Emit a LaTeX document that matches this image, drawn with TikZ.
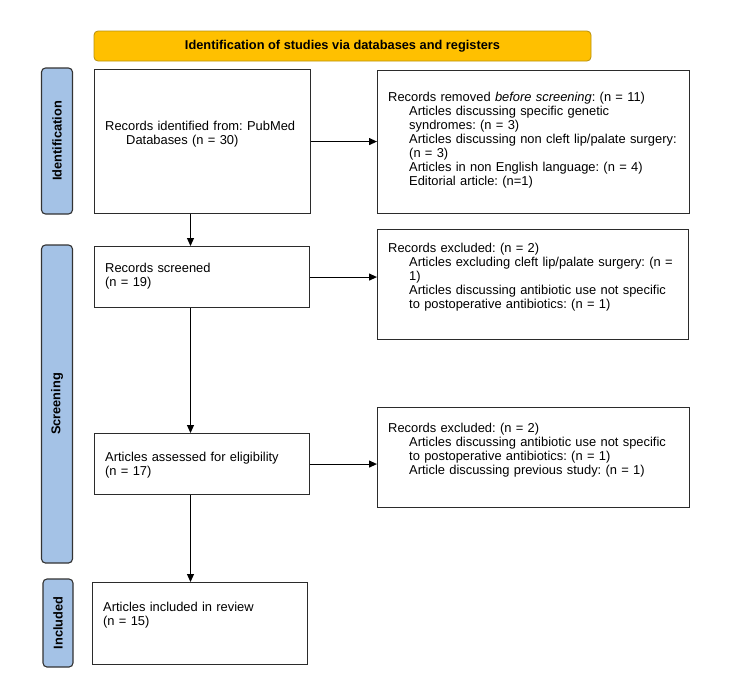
\documentclass[tikz,border=0pt]{standalone}
\usepackage{fontspec}
\setmainfont{Liberation Sans}
\usetikzlibrary{arrows.meta,calc}
\definecolor{bannerfill}{HTML}{FFC000}
\definecolor{bannerline}{HTML}{B8900A}
\definecolor{sidefill}{HTML}{A4C2E6}
\definecolor{sideline}{HTML}{333333}
\definecolor{boxline}{HTML}{2B2B2B}
\frenchspacing
\begin{document}
\frenchspacing
\begin{tikzpicture}[x=1pt,y=-1pt,
  box/.style={draw=boxline, line width=1.1pt, rectangle, inner sep=0pt, anchor=north west, fill=white},
  sidebar/.style={draw=sideline, line width=1.1pt, fill=sidefill, rounded corners=4pt, inner sep=0pt, rotate=90, font=\bfseries\fontsize{12.8}{14}\selectfont},
  banner/.style={draw=bannerline, line width=0.8pt, fill=bannerfill, rounded corners=4pt, inner sep=0pt, font=\bfseries\fontsize{12.8}{14}\selectfont},
  txt/.style={anchor=base west, inner sep=0pt, align=left, text width=310pt, font=\frenchspacing\fontsize{12.9}{14.1}\selectfont},
  arr/.style={line width=1.1pt, draw=black, -{Triangle[length=8pt,width=7pt]}}
]
\useasboundingbox (0,0) rectangle (750,694);

% banner
\node[banner, minimum width=497pt, minimum height=30pt] (ban) at (342.5,46) {Identification of studies via databases and registers};

% side bars
\node[sidebar, minimum width=146pt, minimum height=31pt] (s1) at (57,141) {Identification};
\node[sidebar, minimum width=318pt, minimum height=31pt] (s2) at (57,404) {Screening};
\node[sidebar, minimum width=88pt, minimum height=30pt] (s3) at (58,623) {Included};

% boxes
\node[box, minimum width=216pt, minimum height=144pt] (b1) at (94,69) {};
\node[box, minimum width=312pt, minimum height=143pt] (b2) at (377,70) {};
\node[box, minimum width=215pt, minimum height=61pt] (b3) at (94,246) {};
\node[box, minimum width=311pt, minimum height=110pt] (b4) at (377,229) {};
\node[box, minimum width=215pt, minimum height=61pt] (b5) at (94,433) {};
\node[box, minimum width=312pt, minimum height=100pt] (b6) at (377,407) {};
\node[box, minimum width=215pt, minimum height=82pt] (b7) at (92,582) {};

% texts
\node[txt] (t1) at (105,130.5) {Records identified from: PubMed\\\hspace*{21pt}Databases (n = 30)};
\node[txt] (t2) at (388,101) {Records removed \textit{before screening}: (n = 11)\\
\hspace*{21pt}Articles discussing specific genetic\\
\hspace*{21pt}syndromes: (n = 3)\\
\hspace*{21pt}Articles discussing non cleft lip/palate surgery:\\
\hspace*{21pt}(n = 3)\\
\hspace*{21pt}Articles in non English language: (n = 4)\\
\hspace*{21pt}Editorial article: (n=1)};
\node[txt] (t3) at (105,272) {Records screened\\(n = 19)};
\node[txt] (t4) at (388,252) {Records excluded: (n = 2)\\
\hspace*{21pt}Articles excluding cleft lip/palate surgery: (n =\\
\hspace*{21pt}1)\\
\hspace*{21pt}Articles discussing antibiotic use not specific\\
\hspace*{21pt}to postoperative antibiotics: (n = 1)};
\node[txt] (t5) at (105,461) {Articles assessed for eligibility\\(n = 17)};
\node[txt] (t6) at (388,432) {Records excluded: (n = 2)\\
\hspace*{21pt}Articles discussing antibiotic use not specific\\
\hspace*{21pt}to postoperative antibiotics: (n = 1)\\
\hspace*{21pt}Article discussing previous study: (n = 1)};
\node[txt] (t7) at (103,611) {Articles included in review\\(n = 15)};

% connectors
\coordinate (ax) at (190.5,0);
\draw[arr] (b1.south -| ax) -- (b3.north -| ax);
\draw[arr] (b3.south -| ax) -- (b5.north -| ax);
\draw[arr] (b5.south -| ax) -- (b7.north -| ax);
\draw[arr] (b1.east) -- (b1.east -| b2.west);
\draw[arr] (b3.east) -- (b3.east -| b4.west);
\draw[arr] (b5.east) -- (b5.east -| b6.west);
\end{tikzpicture}
\end{document}
